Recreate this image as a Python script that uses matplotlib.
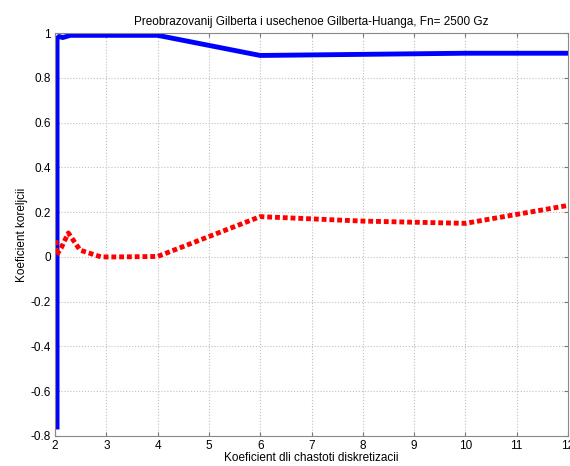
import matplotlib
matplotlib.use("Agg")
import matplotlib.pyplot as plt

plt.rcParams["font.family"] = ["Liberation Sans", "DejaVu Sans"]

# --- data ---
x_blue = [2.04, 2.04, 2.08, 2.15, 2.3, 3.0, 4.0, 6.0, 8.0, 10.0, 12.0]
y_blue = [-0.76, 0.975, 0.985, 0.98, 0.99, 0.99, 0.99, 0.90, 0.905, 0.91, 0.91]

x_red = [2.02, 2.03, 2.12, 2.26, 2.49, 2.9, 3.2, 4.0, 6.0, 8.0, 10.0, 12.0]
y_red = [0.075, 0.008, 0.04, 0.107, 0.03, 0.0, 0.0, 0.002, 0.18, 0.16, 0.15, 0.23]

xticks = list(range(2, 13))
yticks = [-0.8, -0.6, -0.4, -0.2, 0, 0.2, 0.4, 0.6, 0.8, 1]
ytick_labels = ["-0.8", "-0.6", "-0.4", "-0.2", "0", "0.2", "0.4", "0.6", "0.8", "1"]

fig = plt.figure(figsize=(5.7, 4.66), dpi=100)
ax = fig.add_axes([0.0965, 0.0644, 0.9, 0.8646])

ax.plot(x_blue, y_blue, color="#0000ff", lw=3.5)
ax.plot(x_red, y_red, color="#ff0000", lw=3.5, linestyle=(0, (1, 0.6)))

ax.set_xlim(2, 12)
ax.set_ylim(-0.8, 1)
ax.set_xticks(xticks)
ax.set_yticks(yticks)
ax.set_yticklabels(ytick_labels)
ax.tick_params(direction="in", labelsize=8.5, length=3, color="#777777",
               top=True, right=True, pad=3)
ax.grid(True, linestyle=":", color="#c0c0c0", lw=0.8)
for s in ax.spines.values():
    s.set_color("#888888")

ax.set_title("Preobrazovanij Gilberta i usechenoe Gilberta-Huanga, Fn= 2500 Gz", fontsize=8.5)
ax.set_xlabel("Koeficient dli chastoti diskretizacii", fontsize=8.5, labelpad=0)
ax.set_ylabel("Koeficient koreljcii", fontsize=8.5, labelpad=2)

fig.savefig("out.png", dpi=100)
